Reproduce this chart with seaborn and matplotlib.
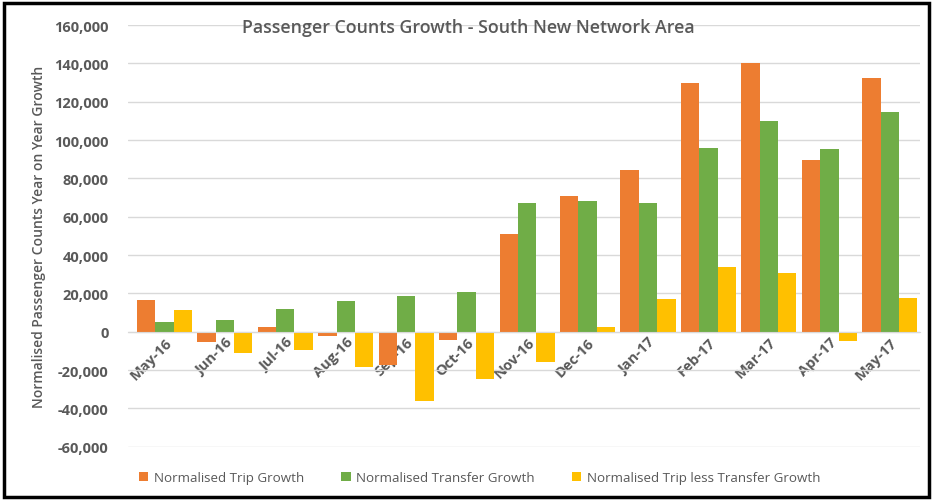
import numpy as np
import pandas as pd
import matplotlib
matplotlib.use("Agg")
import matplotlib.pyplot as plt
import seaborn as sns
from matplotlib.patches import Rectangle
from matplotlib.ticker import FuncFormatter

months = ["May-16", "Jun-16", "Jul-16", "Aug-16", "Sep-16", "Oct-16", "Nov-16",
          "Dec-16", "Jan-17", "Feb-17", "Mar-17", "Apr-17", "May-17"]
trip_growth = [16700, -5200, 2600, -2000, -17200, -4200, 51000,
               71000, 84500, 130000, 140000, 89600, 132300]
transfer_growth = [5200, 6200, 12000, 16100, 18700, 20800, 67200,
                   68300, 67200, 96000, 109800, 95200, 114800]
trip_less_transfer = [11500, -11000, -9400, -18200, -36000, -24500, -15600,
                      2600, 17000, 34000, 30500, -5000, 17500]
series_names = ["Normalised Trip Growth", "Normalised Transfer Growth",
                "Normalised Trip less Transfer Growth"]
colors = ["#ED7D31", "#70AD47", "#FFC000"]

df = pd.DataFrame({
    "Month": months * 3,
    "Value": trip_growth + transfer_growth + trip_less_transfer,
    "Series": [series_names[0]] * 13 + [series_names[1]] * 13 + [series_names[2]] * 13,
})

sns.set_style("white")
plt.rcParams['font.family'] = ['Open Sans', 'DejaVu Sans']

fig = plt.figure(figsize=(9.35, 5.02), dpi=100)
ax = fig.add_axes([0.137, 0.108, 0.847, 0.840])

sns.barplot(data=df, x="Month", y="Value", hue="Series", palette=colors,
            saturation=1, width=0.91, gap=0, ax=ax, legend=True, edgecolor="none")

ax.set_ylim(-60000, 160000)
ax.set_yticks(np.arange(-60000, 160001, 20000))
ax.yaxis.set_major_formatter(FuncFormatter(lambda v, p: f"{int(v):,}"))
ax.set_xlim(-0.6, 12.5)
ax.grid(axis="y", color="#D9D9D9", lw=1)
ax.set_axisbelow(True)
for s in ["top", "right", "left"]:
    ax.spines[s].set_visible(False)
ax.spines["bottom"].set_position(("data", 0))
ax.spines["bottom"].set_color("#D9D9D9")
ax.tick_params(axis="both", length=0, labelsize=10.5, labelcolor="#595959")
ax.tick_params(axis="y", pad=14)
ax.tick_params(axis="x", pad=2)
for lbl in ax.get_yticklabels():
    lbl.set_fontweight("bold")
for lbl in ax.get_xticklabels():
    lbl.set_rotation(45)
    lbl.set_ha("right")
    lbl.set_rotation_mode("anchor")
    lbl.set_fontweight("bold")
ax.set_xlabel("")
ax.set_ylabel("Normalised Passenger Counts Year on Year Growth", fontsize=10,
              color="#595959", fontweight="semibold", labelpad=6)

ax.set_title("Passenger Counts Growth - South New Network Area", fontsize=12.8,
             color="#595959", fontweight="semibold", x=0.43, y=0.965)

ax.legend(loc="center left", bbox_to_anchor=(0.136, 0.047),
          bbox_transform=fig.transFigure, ncol=3, frameon=False,
          fontsize=9.6, labelcolor="#595959", handlelength=0.7, handleheight=0.7,
          columnspacing=2.8, handletextpad=0.4)

fig.patches.append(Rectangle((0.004, 0.008), 0.99, 0.985, transform=fig.transFigure,
                             fill=False, edgecolor="black", lw=2.5))

fig.savefig("out.png", dpi=100)
